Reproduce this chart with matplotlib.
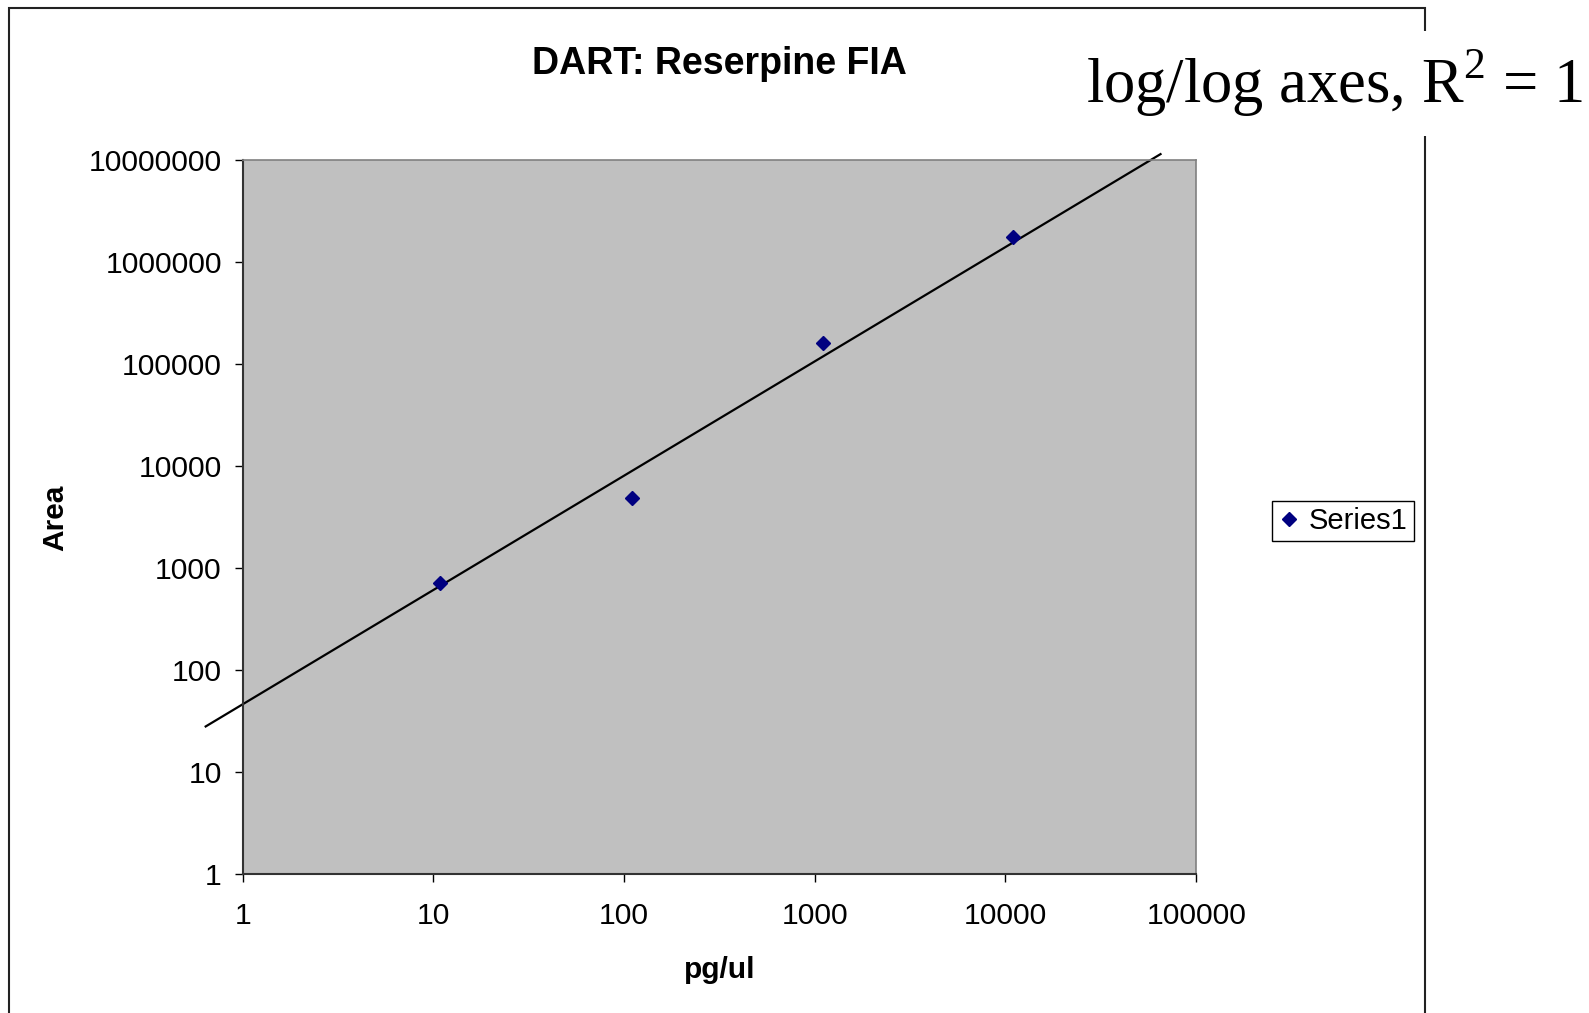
import numpy as np
import matplotlib.pyplot as plt
from matplotlib.patches import Rectangle

plt.rcParams['mathtext.fontset'] = 'custom'
plt.rcParams['mathtext.rm'] = 'Liberation Serif'

# Data (log/log)
conc = [10.9, 110, 1100, 11000]          # pg/ul
area = [710, 4800, 161000, 1725000]     # peak area

# power trendline as drawn on the chart: area = coef * conc ** expo
trend_coef = 46.0
trend_expo = 1.12
trend_range = [0.64, 65000]

x_ticks = [1, 10, 100, 1000, 10000, 100000]
y_ticks = [1, 10, 100, 1000, 10000, 100000, 1000000, 10000000]

fig = plt.figure(figsize=(15.89, 10.13), dpi=100)
ax = fig.add_axes([0.1527, 0.1372, 0.6001, 0.7053])
ax.set_facecolor('#C0C0C0')

# Trend line, allowed to stick out of the plot area like in Excel
tx = np.logspace(np.log10(trend_range[0]), np.log10(trend_range[1]), 50)
ax.plot(tx, trend_coef * tx ** trend_expo, c='k', lw=1.6, clip_on=False, zorder=2)
ax.plot(conc, area, ls='none', marker='D', ms=7, c='#000080', label='Series1', zorder=3)

ax.set_xscale('log')
ax.set_yscale('log')
ax.set_xlim(1, 100000)
ax.set_ylim(1, 10000000)
ax.set_xticks(x_ticks)
ax.set_xticklabels([str(v) for v in x_ticks])
ax.set_yticks(y_ticks)
ax.set_yticklabels([str(v) for v in y_ticks])
ax.minorticks_off()
ax.tick_params(direction='out', length=6, width=1, labelsize=21.7, colors='k')
ax.tick_params(axis='x', pad=14)
ax.tick_params(axis='y', pad=9)
for lbl in ax.get_xticklabels() + ax.get_yticklabels():
    lbl.set_fontfamily('Liberation Sans')

for side in ['left', 'bottom']:
    ax.spines[side].set_color('#333333')
    ax.spines[side].set_linewidth(1.5)
for side in ['top', 'right']:
    ax.spines[side].set_color('#808080')
    ax.spines[side].set_linewidth(1.2)

# Titles and labels
fig.text(0.4525, 0.9368, 'DART: Reserpine FIA', ha='center', va='center',
         fontsize=27, fontweight='bold', family='Liberation Sans')
fig.text(0.4530, 0.0425, 'pg/ul', ha='center', va='center',
         fontsize=21.5, fontweight='bold', family='Liberation Sans')
fig.text(0.0346, 0.4887, 'Area', ha='center', va='center', rotation=90,
         fontsize=21.5, fontweight='bold', family='Liberation Sans')

leg = fig.legend(loc='upper left', bbox_to_anchor=(0.8005, 0.5050), fancybox=False,
                 prop={'family': 'Liberation Sans', 'size': 21}, handlelength=0.8,
                 handletextpad=0.27, borderpad=0.2, borderaxespad=0, framealpha=1)
leg.get_frame().set_edgecolor('k')
leg.get_frame().set_linewidth(1)

# Outer chart border
fig.patches.append(Rectangle((9 / 1589, -0.05), 1416 / 1589, 1 - 8 / 1013 + 0.05,
                             transform=fig.transFigure, fill=False, ec='#222222', lw=1.5))

# Slide annotation on top of the border
fig.text(0.6835, 1 - 103 / 1013, r'log/log axes, R$^{2}$ = 1', ha='left', va='baseline',
         fontsize=45, family='Liberation Serif',
         bbox=dict(facecolor='white', edgecolor='none', pad=12))

fig.savefig('out.png', dpi=100)
